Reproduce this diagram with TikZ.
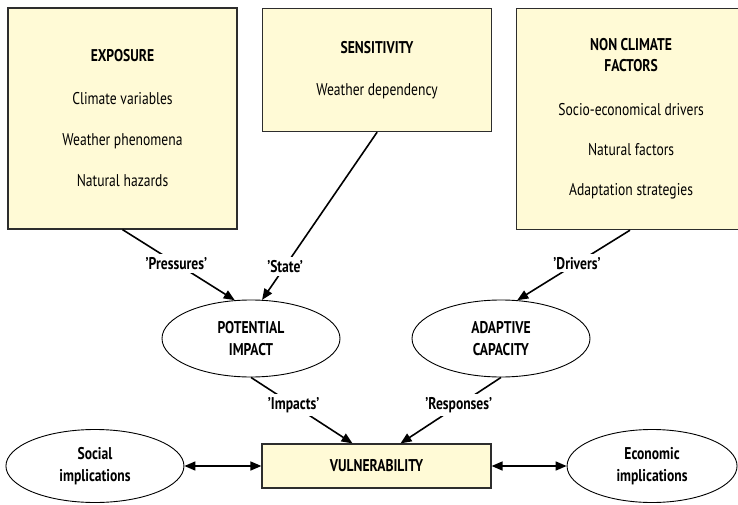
\documentclass[tikz,border=0pt]{standalone}
\usepackage{fontspec}
\setmainfont{PT Sans}[FakeStretch=0.8]
\usetikzlibrary{shapes.geometric, arrows.meta, positioning}
\definecolor{boxfill}{RGB}{255,250,214}
\definecolor{boxline}{RGB}{45,45,45}

\begin{document}
\begin{tikzpicture}[x=1pt, y=-1pt,
  font=\fontsize{17}{20}\selectfont,
  factor/.style = {draw=boxline, line width=1.2pt, fill=boxfill, minimum width=229pt, align=center, inner sep=0pt},
  oval/.style = {draw, ellipse, line width=0.9pt, minimum width=178pt, minimum height=77pt, align=center, inner sep=0pt, font=\fontsize{17}{22}\selectfont\bfseries},
  lbl/.style = {fill=white, inner sep=3pt, font=\fontsize{17}{20}\selectfont\bfseries},
  link/.style = {-{Triangle[length=11pt, width=9pt]}, line width=1.6pt},
  twoway/.style = {{Triangle[length=11pt, width=9pt]}-{Triangle[length=11pt, width=9pt]}, line width=1.6pt}]
\useasboundingbox (0,0) rectangle (738,505);
% factors
\node[factor, minimum height=221pt] (exposure) at (122.5,118.5) {\textbf{EXPOSURE}\\[23pt] Climate variables\\[21pt] Weather phenomena\\[21pt] Natural hazards};
\node[factor, minimum height=123pt, anchor=north west] (sensitivity) at (262,8) {\textbf{SENSITIVITY}\\[22pt] Weather dependency};
\node[factor, minimum height=221pt, anchor=north west] (nonclimate) at (516,8) {\textbf{NON CLIMATE}\\[1pt] \textbf{FACTORS}\\[24pt] Socio-economical drivers\\[20pt] Natural factors\\[20pt] Adaptation strategies};
% components
\node[oval] (potential) at (251,338.5) {POTENTIAL\\ IMPACT};
\node[oval] (adaptive) at (501,338.5) {ADAPTIVE\\ CAPACITY};
\node[factor, minimum height=44pt, font=\fontsize{17}{20}\selectfont\bfseries] (vulnerability) at (376.5,466) {VULNERABILITY};
\node[oval, minimum height=73pt] (social) [left=77pt of vulnerability] {Social\\ implications};
\node[oval, minimum width=170pt, minimum height=73pt] (economic) [right=75pt of vulnerability] {Economic\\ implications};
% links
\draw[link] (exposure.south) -- node[lbl, pos=0.48] {'Pressures'} (potential.113);
\draw[link] (sensitivity.south) -- node[lbl, pos=0.8] {'State'} (potential.74);
\draw[link] (nonclimate.south -| 630,0) -- node[lbl, pos=0.47] {'Drivers'} (adaptive.67);
\draw[link] (potential.south) -- node[lbl, pos=0.42] {'Impacts'} ([xshift=-24pt]vulnerability.north);
\draw[link] (adaptive.south) -- node[lbl, pos=0.42] {'Responses'} ([xshift=24pt]vulnerability.north);
\draw[twoway] (social) -- (vulnerability);
\draw[twoway] (vulnerability) -- (economic);
\end{tikzpicture}
\end{document}
